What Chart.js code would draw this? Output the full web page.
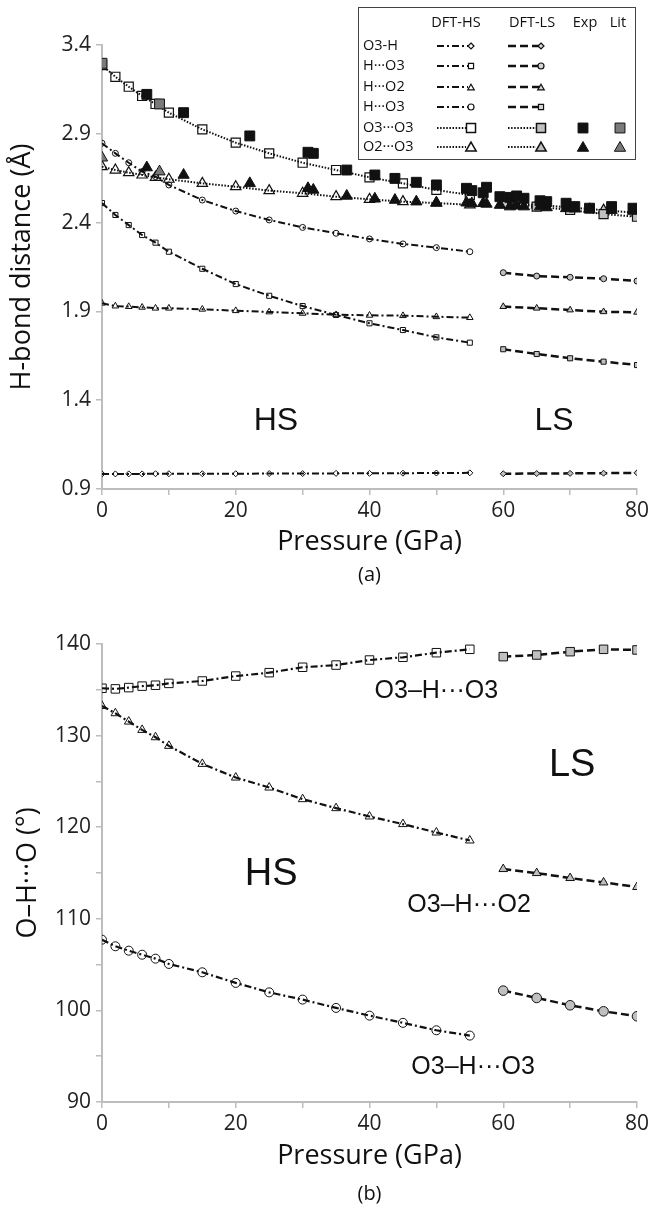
<!DOCTYPE html>
<html>
<head>
<meta charset="utf-8">
<script src="https://cdn.jsdelivr.net/npm/chart.js@4.4.0/dist/chart.umd.min.js"></script>
<style>
  html, body { margin: 0; padding: 0; background: #fff; }
  #wrap { position: relative; width: 664px; height: 1217px; }
  #ca { position: absolute; left: 0; top: 0; }
  #cb { position: absolute; left: 0; top: 600px; }
</style>
</head>
<body>
<div id="wrap">
  <canvas id="ca" width="664" height="600"></canvas>
  <canvas id="cb" width="664" height="617"></canvas>
</div>
<script>
// ---------- pressures (GPa) ----------
const pressureHS = [0, 2, 4, 6, 8, 10, 15, 20, 25, 30, 35, 40, 45, 50, 55];
const pressureLS = [60, 65, 70, 75, 80];

// ---------- (a) H-bond distances (Å) ----------
const o3hHS    = [0.985, 0.985, 0.985, 0.985, 0.986, 0.986, 0.986, 0.986, 0.987, 0.987, 0.988, 0.988, 0.989, 0.990, 0.991];
const o3hLS    = [0.986, 0.987, 0.988, 0.989, 0.991];
const hO3aHS   = [2.510, 2.443, 2.386, 2.330, 2.287, 2.236, 2.140, 2.054, 1.988, 1.930, 1.880, 1.833, 1.795, 1.754, 1.724];
const hO3aLS   = [1.687, 1.660, 1.636, 1.617, 1.598];
const hO2HS    = [1.946, 1.930, 1.927, 1.923, 1.918, 1.918, 1.912, 1.904, 1.897, 1.889, 1.881, 1.878, 1.876, 1.870, 1.865];
const hO2LS    = [1.927, 1.918, 1.908, 1.898, 1.895];
const hO3bHS   = [2.847, 2.790, 2.737, 2.687, 2.659, 2.612, 2.527, 2.465, 2.415, 2.373, 2.340, 2.308, 2.280, 2.259, 2.236];
const hO3bLS   = [2.118, 2.099, 2.092, 2.084, 2.071];
const o3o3HS   = [3.287, 3.221, 3.165, 3.113, 3.068, 3.019, 2.925, 2.850, 2.790, 2.737, 2.696, 2.655, 2.621, 2.584, 2.555];
const o3o3LS   = [2.510, 2.490, 2.471, 2.448, 2.433];
const o2o3HS   = [2.715, 2.696, 2.681, 2.668, 2.655, 2.644, 2.621, 2.602, 2.580, 2.565, 2.546, 2.531, 2.518, 2.510, 2.500];
const o2o3LS   = [2.512, 2.500, 2.485, 2.470, 2.455];

// experimental and literature O···O distances
const expP     = [6.7, 12.2, 22.1, 30.8, 31.6, 36.6, 40.8, 43.8, 47.0, 50.0, 54.5, 55.3, 57.0, 57.5, 59.5, 61.0, 62.0, 63.1, 65.5, 66.5, 69.4, 70.7, 72.9, 76.2, 79.4];
const expO3O3  = [3.122, 3.019, 2.888, 2.796, 2.790, 2.696, 2.668, 2.649, 2.627, 2.612, 2.593, 2.580, 2.568, 2.599, 2.546, 2.542, 2.550, 2.537, 2.523, 2.518, 2.509, 2.490, 2.481, 2.490, 2.481];
const expO2O3  = [2.710, 2.668, 2.621, 2.593, 2.584, 2.550, 2.534, 2.527, 2.518, 2.512, 2.512, 2.508, 2.509, 2.505, 2.499, 2.490, 2.495, 2.490, 2.490, 2.485, 2.480, 2.478, 2.475, 2.470, 2.465];
const litP     = [0, 8.6];
const litO3O3  = [3.297, 3.068];
const litO2O3  = [2.765, 2.687];

// ---------- (b) O–H···O angles (°) ----------
const angO3O3upHS = [135.17, 135.10, 135.24, 135.40, 135.50, 135.70, 135.96, 136.50, 136.87, 137.46, 137.70, 138.25, 138.55, 139.05, 139.42];
const angO3O3upLS = [138.62, 138.80, 139.16, 139.42, 139.35];
const angO3O2HS   = [133.24, 132.44, 131.53, 130.62, 129.82, 128.88, 126.91, 125.42, 124.33, 123.06, 122.08, 121.17, 120.34, 119.42, 118.55];
const angO3O2LS   = [115.43, 114.99, 114.45, 113.97, 113.47];
const angO3O3loHS = [107.72, 107.00, 106.52, 106.08, 105.65, 105.07, 104.16, 103.00, 101.97, 101.18, 100.27, 99.43, 98.64, 97.83, 97.25];
const angO3O3loLS = [102.16, 101.36, 100.56, 99.90, 99.36];

// ---------- tick values ----------
const xTicks  = [0, 10, 20, 30, 40, 50, 60, 70, 80];
const yTicksA = [0.9, 1.4, 1.9, 2.4, 2.9, 3.4];
const yTicksB = [90, 95, 100, 105, 110, 115, 120, 125, 130, 135, 140];

// ---------- styling ----------
const ink = '#111';
const axisGrey = '#bdbdbd';
const lsGrey = '#c0c0c0';
const litGrey = '#7a7a7a';
const clear = 'rgba(255,255,255,0)';
const dashDot = [7, 3, 2, 3];
const dashed = [8, 4];
const dotted = [1.5, 1.6];
const tickFont = { family: 'Open Sans', size: 21 };
const titleFont = { family: 'Open Sans', size: 27 };

function pts(px, vals) { return px.map((p, i) => ({ x: p, y: vals[i] })); }

function curve(px, vals, o) {
  return Object.assign({
    data: pts(px, vals), showLine: true, borderColor: ink, borderWidth: 2,
    borderCapStyle: 'butt', pointBorderColor: ink, pointBorderWidth: 1,
    pointBackgroundColor: clear, tension: 0
  }, o);
}
function marks(px, vals, o) {
  return Object.assign({
    data: pts(px, vals), showLine: false, pointBorderColor: ink, pointBorderWidth: 1
  }, o);
}

function drawMarker(ctx, style, x, y, r, fill, stroke, lw) {
  ctx.save();
  ctx.setLineDash([]);
  ctx.beginPath();
  ctx.lineWidth = lw; ctx.strokeStyle = stroke; ctx.fillStyle = fill;
  if (style === 'rect') {
    const s = r * Math.SQRT1_2;
    ctx.rect(x - s, y - s, 2 * s, 2 * s);
  } else if (style === 'rectRot') {
    ctx.moveTo(x, y - r); ctx.lineTo(x + r, y); ctx.lineTo(x, y + r); ctx.lineTo(x - r, y); ctx.closePath();
  } else if (style === 'triangle') {
    for (let k = 0; k < 3; k++) {
      const a = k * 2 * Math.PI / 3;
      const px = x + Math.sin(a) * r, py = y - Math.cos(a) * r;
      if (k === 0) ctx.moveTo(px, py); else ctx.lineTo(px, py);
    }
    ctx.closePath();
  } else {
    ctx.arc(x, y, r, 0, Math.PI * 2);
  }
  ctx.fill(); ctx.stroke();
  ctx.restore();
}

function drawText(ctx, text, x, y, font, align) {
  ctx.save();
  ctx.font = font; ctx.fillStyle = ink;
  ctx.textAlign = align || 'center'; ctx.textBaseline = 'middle';
  ctx.fillText(text, x, y);
  ctx.restore();
}

function xScale(height, titlePadBottom) {
  return {
    type: 'linear', min: 0, max: 80,
    afterBuildTicks: s => { s.ticks = xTicks.map(v => ({ value: v })); },
    ticks: { autoSkip: false, maxRotation: 0, padding: 3, color: '#222', font: tickFont,
             callback: v => (v % 20 === 0 ? String(v) : '') },
    grid: { drawOnChartArea: false, drawTicks: true, tickLength: 6, color: axisGrey, lineWidth: 1.5 },
    border: { display: true, color: axisGrey, width: 2 },
    title: { display: true, text: 'Pressure (GPa)', color: ink, font: titleFont,
             padding: { top: 0, bottom: titlePadBottom } },
    afterFit: s => { s.height = height; }
  };
}

function yScale(min, max, ticks, labelFn, title, titlePadTop) {
  return {
    type: 'linear', min: min, max: max,
    afterBuildTicks: s => { s.ticks = ticks.map(v => ({ value: v })); },
    ticks: { autoSkip: false, padding: 5, color: '#222', font: tickFont, callback: labelFn },
    grid: { drawOnChartArea: false, drawTicks: true, tickLength: 6, color: axisGrey, lineWidth: 1.5 },
    border: { display: true, color: axisGrey, width: 2 },
    title: { display: true, text: title, color: ink, font: titleFont, padding: { top: titlePadTop, bottom: 0 } },
    afterFit: s => { s.width = 102; }
  };
}

// ---------- legend for panel (a) ----------
const legendHeads = ['DFT-HS', 'DFT-LS', 'Exp', 'Lit'];
const legendRows = [
  { label: 'O3-H',    hs: ['rectRot', 3],  ls: ['rectRot', 3],  line: dashDot, lineLS: dashed },
  { label: 'H···O3',  hs: ['rect', 3.6],   ls: ['circle', 3],   line: dashDot, lineLS: dashed },
  { label: 'H···O2',  hs: ['triangle', 3.8], ls: ['triangle', 3.8], line: dashDot, lineLS: dashed },
  { label: 'H···O3',  hs: ['circle', 3],   ls: ['rect', 3.6],   line: dashDot, lineLS: dashed },
  { label: 'O3···O3', hs: ['rect', 6.4],   ls: ['rect', 6.4],   line: dotted, lineLS: dotted, exp: ['rect', 7], lit: ['rect', 7] },
  { label: 'O2···O3', hs: ['triangle', 6], ls: ['triangle', 6], line: dotted, lineLS: dotted, exp: ['triangle', 6.5], lit: ['triangle', 6.5] }
];

const panelANotes = {
  id: 'panelANotes',
  afterDraw(chart) {
    const ctx = chart.ctx;
    const sx = chart.scales.x, sy = chart.scales.y;
    drawText(ctx, 'HS', sx.getPixelForValue(26.0), sy.getPixelForValue(1.28), '32px "Liberation Sans"');
    drawText(ctx, 'LS', sx.getPixelForValue(67.6), sy.getPixelForValue(1.28), '32px "Liberation Sans"');
    drawText(ctx, '(a)', (sx.left + sx.right) / 2, 575, '20px "Open Sans"');

    // legend box
    const bx = 358, by = 7, bw = 277, bh = 152;
    ctx.save();
    ctx.fillStyle = '#fff'; ctx.fillRect(bx, by, bw, bh);
    ctx.strokeStyle = '#444'; ctx.lineWidth = 1; ctx.strokeRect(bx + 0.5, by + 0.5, bw, bh);
    ctx.restore();
    const headX = [456, 532, 585, 618];
    legendHeads.forEach((h, i) => drawText(ctx, h, headX[i], 23, '14.5px "Open Sans"'));
    const rowY = [46, 66, 87, 107, 128, 147];
    legendRows.forEach((row, i) => {
      const y = rowY[i];
      drawText(ctx, row.label, 363, y, '14.5px "Open Sans"', 'left');
      const big = row.hs[1] > 5;
      // HS and LS line samples
      ctx.save();
      ctx.strokeStyle = ink; ctx.lineWidth = 2; ctx.setLineDash(row.line);
      ctx.beginPath(); ctx.moveTo(437, y); ctx.lineTo(big ? 466 : 468, y); ctx.stroke();
      ctx.setLineDash(row.lineLS); ctx.lineWidth = big ? 2 : 2.5;
      ctx.beginPath(); ctx.moveTo(508, y); ctx.lineTo(big ? 536 : 540, y); ctx.stroke();
      ctx.restore();
      drawMarker(ctx, row.hs[0], 471, y + (row.hs[0] === 'triangle' ? 1 : 0), row.hs[1], '#fff', ink, big ? 1.5 : 1.2);
      drawMarker(ctx, row.ls[0], 541, y + (row.ls[0] === 'triangle' ? 1 : 0), row.ls[1], big ? lsGrey : '#d6d6d6', ink, big ? 1.5 : 1.2);
      if (row.exp) drawMarker(ctx, row.exp[0], 583, y + (row.exp[0] === 'triangle' ? 1 : 0), row.exp[1], ink, ink, 1);
      if (row.lit) drawMarker(ctx, row.lit[0], 620, y + (row.lit[0] === 'triangle' ? 1 : 0), row.lit[1], litGrey, ink, 1);
    });
  }
};

const panelBNotes = {
  id: 'panelBNotes',
  afterDraw(chart) {
    const ctx = chart.ctx;
    const sx = chart.scales.x, sy = chart.scales.y;
    const P = v => sx.getPixelForValue(v), A = v => sy.getPixelForValue(v);
    drawText(ctx, 'HS', P(25.3), A(114.8), '38px "Liberation Sans"');
    drawText(ctx, 'LS', P(70.3), A(126.7), '38px "Liberation Sans"');
    drawText(ctx, 'O3–H···O3', P(50.0), A(134.9), '25px "Liberation Sans"');
    drawText(ctx, 'O3–H···O2', P(54.9), A(111.5), '25px "Liberation Sans"');
    drawText(ctx, 'O3–H···O3', P(55.5), A(93.8), '25px "Liberation Sans"');
    drawText(ctx, '(b)', (sx.left + sx.right) / 2, 594, '20px "Open Sans"');
  }
};

Chart.defaults.animation = false;
Chart.defaults.events = [];
Chart.defaults.plugins.legend.display = false;
Chart.defaults.plugins.tooltip.enabled = false;

// ---------- panel (a): H-bond distances ----------
new Chart(document.getElementById('ca'), {
  type: 'scatter',
  data: {
    datasets: [
      marks(litP, litO3O3, { pointStyle: 'rect', pointRadius: 7, pointBackgroundColor: litGrey }),
      marks(litP, litO2O3, { pointStyle: 'triangle', pointRadius: 6.5, pointBackgroundColor: litGrey }),
      marks(expP, expO3O3, { pointStyle: 'rect', pointRadius: 7, pointBackgroundColor: ink }),
      marks(expP, expO2O3, { pointStyle: 'triangle', pointRadius: 6.5, pointBackgroundColor: ink }),
      curve(pressureLS, o3o3LS, { borderDash: dotted, pointStyle: 'rect', pointRadius: 6.4, pointBackgroundColor: lsGrey, pointBorderWidth: 1.2 }),
      curve(pressureLS, o2o3LS, { borderDash: dotted, pointStyle: 'triangle', pointRadius: 6, pointBackgroundColor: lsGrey, pointBorderWidth: 1.2 }),
      curve(pressureHS, o3o3HS, { borderDash: dotted, pointStyle: 'rect', pointRadius: 6.4, pointBorderWidth: 1.2 }),
      curve(pressureHS, o2o3HS, { borderDash: dotted, pointStyle: 'triangle', pointRadius: 6, pointBorderWidth: 1.2 }),
      curve(pressureLS, o3hLS,  { borderDash: dashed, borderWidth: 2.5, pointStyle: 'rectRot', pointRadius: 3, pointBackgroundColor: lsGrey }),
      curve(pressureLS, hO3aLS, { borderDash: dashed, borderWidth: 2.5, pointStyle: 'rect', pointRadius: 3.6, pointBackgroundColor: lsGrey }),
      curve(pressureLS, hO2LS,  { borderDash: dashed, borderWidth: 2.5, pointStyle: 'triangle', pointRadius: 3.8, pointBackgroundColor: lsGrey }),
      curve(pressureLS, hO3bLS, { borderDash: dashed, borderWidth: 2.5, pointStyle: 'circle', pointRadius: 3, pointBackgroundColor: lsGrey }),
      curve(pressureHS, o3hHS,  { borderDash: dashDot, pointStyle: 'rectRot', pointRadius: 3 }),
      curve(pressureHS, hO3aHS, { borderDash: dashDot, pointStyle: 'rect', pointRadius: 3.6 }),
      curve(pressureHS, hO2HS,  { borderDash: dashDot, pointStyle: 'triangle', pointRadius: 3.8 }),
      curve(pressureHS, hO3bHS, { borderDash: dashDot, pointStyle: 'circle', pointRadius: 3 })
    ]
  },
  options: {
    responsive: false,
    layout: { padding: { left: 0, top: 45, right: 27, bottom: 0 } },
    scales: {
      x: xScale(111, 41),
      y: yScale(0.9, 3.4, yTicksA, v => v.toFixed(1), 'H-bond distance (Å)', 6)
    }
  },
  plugins: [panelANotes]
});

// ---------- panel (b): O–H···O angles ----------
new Chart(document.getElementById('cb'), {
  type: 'scatter',
  data: {
    datasets: [
      curve(pressureLS, angO3O3upLS, { borderDash: dashed, borderWidth: 2.5, pointStyle: 'rect', pointRadius: 6, pointBackgroundColor: lsGrey }),
      curve(pressureLS, angO3O2LS,   { borderDash: dashed, borderWidth: 2.5, pointStyle: 'triangle', pointRadius: 5, pointBackgroundColor: lsGrey }),
      curve(pressureLS, angO3O3loLS, { borderDash: dashed, borderWidth: 2.5, pointStyle: 'circle', pointRadius: 4.8, pointBackgroundColor: lsGrey }),
      curve(pressureHS, angO3O3upHS, { borderDash: dashDot, borderWidth: 2.2, pointStyle: 'rect', pointRadius: 6 }),
      curve(pressureHS, angO3O2HS,   { borderDash: dashDot, borderWidth: 2.2, pointStyle: 'triangle', pointRadius: 5 }),
      curve(pressureHS, angO3O3loHS, { borderDash: dashDot, borderWidth: 2.2, pointStyle: 'circle', pointRadius: 4.5 })
    ]
  },
  options: {
    responsive: false,
    layout: { padding: { left: 0, top: 44, right: 27, bottom: 0 } },
    scales: {
      x: xScale(115, 44),
      y: yScale(90, 140, yTicksB, v => (v % 10 === 0 ? String(v) : ''), 'O–H···O (°)', 12)
    }
  },
  plugins: [panelBNotes]
});
</script>
</body>
</html>
